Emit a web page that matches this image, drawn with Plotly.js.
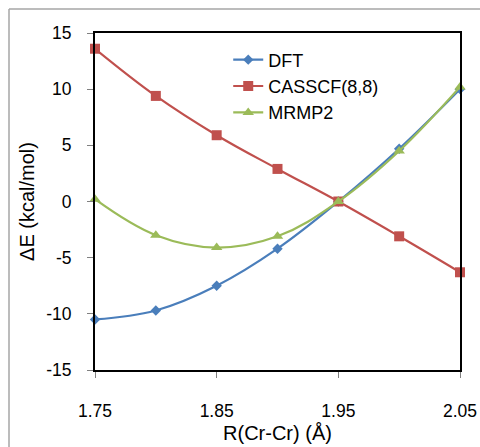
<!DOCTYPE html>
<html>
<head>
<meta charset="utf-8">
<script src="https://cdn.plot.ly/plotly-3.0.1.min.js"></script>
<style>
  html, body { margin: 0; padding: 0; background: #fff; overflow: hidden; }
  #chart { width: 480px; height: 447px; }
</style>
</head>
<body>
<div id="chart"></div>
<script>
// Cr–Cr bond distance scan: relative energies from three methods
const distances = [1.75, 1.80, 1.85, 1.90, 1.95, 2.00, 2.05];
const dftEnergy = [-10.5, -9.7, -7.5, -4.2, 0.0, 4.7, 10.0];
const casscfEnergy = [13.6, 9.4, 5.9, 2.9, 0.0, -3.1, -6.3];
const mrmp2Energy = [0.2, -3.0, -4.1, -3.1, 0.0, 4.5, 10.2];

const xTicks = [1.75, 1.85, 1.95, 2.05];
const xTickText = ['1.75', '1.85', '1.95', '2.05'];
const yTicks = [-15, -10, -5, 0, 5, 10, 15];
const yTickText = ['-15', '-10', '-5', '0', '5', '10', '15'];

const FONT = 'Liberation Sans, Arial, sans-serif';

function series(name, y, color, symbol, size) {
  return {
    type: 'scatter',
    mode: 'lines+markers',
    name: name,
    x: distances,
    y: y,
    cliponaxis: false,
    line: { color: color, width: 2.2, shape: 'spline', smoothing: 1.1 },
    marker: { color: color, symbol: symbol, size: size }
  };
}

const traces = [
  series('DFT', dftEnergy, '#4a7ebb', 'diamond', 8),
  series('CASSCF(8,8)', casscfEnergy, '#c0504d', 'square', 10),
  series('MRMP2', mrmp2Energy, '#9bbb59', 'triangle-up', 10)
];

const layout = {
  width: 480,
  height: 447,
  margin: { l: 95, r: 20, t: 33, b: 77 },
  paper_bgcolor: '#ffffff',
  plot_bgcolor: '#ffffff',
  font: { family: FONT, color: '#000000', size: 17.5 },
  showlegend: true,
  legend: {
    x: 0.365, y: 0.975, xanchor: 'left', yanchor: 'top',
    bgcolor: 'rgba(0,0,0,0)',
    font: { family: FONT, size: 18, color: '#000' }
  },
  xaxis: {
    range: [1.75, 2.05],
    tickvals: xTicks,
    ticktext: xTickText,
    ticks: 'outside', ticklen: 6, tickwidth: 1, tickcolor: '#808080',
    ticklabelstandoff: 18,
    showline: true, linecolor: '#000000', linewidth: 2, mirror: true,
    showgrid: false, zeroline: false,
    title: { text: 'R(Cr-Cr) (Å)', font: { family: FONT, size: 20 }, standoff: 6 }
  },
  yaxis: {
    range: [-15, 15],
    tickvals: yTicks,
    ticktext: yTickText,
    ticks: 'outside', ticklen: 6, tickwidth: 1, tickcolor: '#808080',
    ticklabelstandoff: 12,
    showline: true, linecolor: '#000000', linewidth: 2, mirror: true,
    showgrid: false, zeroline: false,
    title: { text: 'ΔE (kcal/mol)', font: { family: FONT, size: 20 }, standoff: 6 }
  },
  shapes: [
    // outer frame (left and top edges inside the view)
    { type: 'line', xref: 'paper', yref: 'paper', x0: -86/365, x1: 1.2, y0: 361/337, y1: 361/337,
      line: { color: '#a6a6a6', width: 1.5 } },
    { type: 'line', xref: 'paper', yref: 'paper', x0: -86/365, x1: -86/365, y0: 361/337, y1: -0.3,
      line: { color: '#a6a6a6', width: 1.5 } }
  ]
};

Plotly.newPlot('chart', traces, layout, { displayModeBar: false, staticPlot: true });
</script>
</body>
</html>
